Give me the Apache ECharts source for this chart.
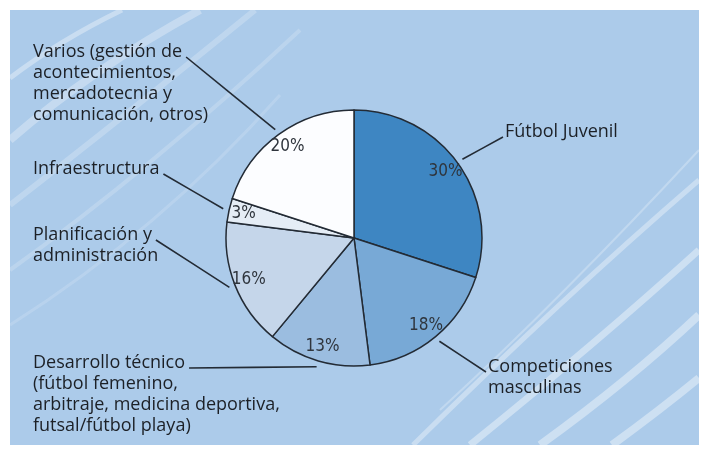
<!DOCTYPE html>
<html><head><meta charset="utf-8">
<script src="https://cdn.jsdelivr.net/npm/echarts@6/dist/echarts.min.js"></script>
<style>html,body{margin:0;padding:0;background:#fff}#c{width:703px;height:455px}</style>
</head><body><div id="c"></div>
<script>
// ---- data ----
const categories = [
  'Fútbol Juvenil',
  'Competiciones\nmasculinas',
  'Desarrollo técnico\n(fútbol femenino,\narbitraje, medicina deportiva,\nfutsal/fútbol playa)',
  'Planificación y\nadministración',
  'Infraestructura',
  'Varios (gestión de\nacontecimientos,\nmercadotecnia y\ncomunicación, otros)'
];
const shares = [30, 18, 13, 16, 3, 20];
const sliceColors = ['#3e86c2', '#78a9d6', '#9bbde0', '#c5d6ea', '#e5edf6', '#fcfdff'];

// ---- layout (not data) ----
const CX = 354, CY = 238, R = 128;
const LABEL_FONT = '"Open Sans", "Noto Sans", sans-serif';
const LABEL_SIZE = 18, LABEL_LH = 21;
// left edge of text block, centre of first line
const labelSpots = [
  {x: 505, y: 132, side: 'right'},
  {x: 488, y: 367, side: 'right'},
  {x: 33, y: 363, side: 'left'},
  {x: 33, y: 235, side: 'left'},
  {x: 33, y: 169, side: 'left'},
  {x: 33, y: 52, side: 'left'}
];
const streaks = [
  [10, 78, 60, 40, 122, 10, 5, 0.35],
  [10, 140, 90, 70, 200, 10, 8, 0.3],
  [10, 205, 120, 120, 255, 10, 6, 0.22],
  [10, 270, 150, 170, 300, 30, 4, 0.18],
  [10, 325, 160, 230, 280, 95, 3, 0.15],
  [413, 445, 560, 300, 699, 180, 5, 0.35],
  [470, 445, 600, 340, 699, 250, 7, 0.4],
  [540, 445, 630, 380, 699, 315, 8, 0.4],
  [612, 445, 660, 410, 699, 378, 8, 0.4],
  [440, 410, 560, 300, 699, 150, 2, 0.25]
];

const meas = document.createElement('canvas').getContext('2d');
meas.font = LABEL_SIZE + 'px ' + LABEL_FONT;

const data = categories.map((n, i) => ({name: n, value: shares[i], itemStyle: {color: sliceColors[i]}}));

const chart = echarts.init(document.getElementById('c'), null, {renderer: 'canvas'});
chart.setOption({
  animation: false,
  backgroundColor: '#ffffff',
  graphic: [
    {type: 'rect', z: -10, shape: {x: 10, y: 10, width: 689, height: 435}, style: {fill: '#accbea'}}
  ].concat(streaks.map(s => ({
    type: 'bezierCurve', z: -9, silent: true,
    shape: {x1: s[0], y1: s[1], cpx1: s[2], cpy1: s[3], x2: s[4], y2: s[5]},
    style: {stroke: 'rgba(255,255,255,' + s[7] + ')', lineWidth: s[6], fill: null}
  }))),
  series: [
    {
      type: 'pie', silent: true, center: [CX, CY], radius: R,
      startAngle: 90, clockwise: true, avoidLabelOverlap: false,
      itemStyle: {borderColor: '#232b35', borderWidth: 1.5},
      label: {
        show: true, position: 'outside', formatter: '{b}',
        fontFamily: LABEL_FONT, fontSize: LABEL_SIZE, lineHeight: LABEL_LH,
        color: '#1c2026', width: 330, overflow: 'none'
      },
      labelLine: {show: true, length: 8, length2: 8, lineStyle: {color: '#232b35', width: 1.6}},
      labelLayout: function (p) {
        const spot = labelSpots[p.dataIndex];
        const pts = p.labelLinePoints;
        let dx = pts[0][0] - CX, dy = pts[0][1] - CY;
        const d = Math.sqrt(dx * dx + dy * dy) || 1;
        const start = [CX + dx / d * (R + 6), CY + dy / d * (R + 6)];
        let end;
        if (spot.side === 'left') {
          const first = categories[p.dataIndex].split('\n')[0];
          end = [spot.x + meas.measureText(first).width + 4, spot.y + 5];
        } else {
          end = [spot.x - 2, spot.y + 5];
        }
        return {
          x: spot.x, y: spot.y - LABEL_LH / 2,
          align: 'left', verticalAlign: 'top',
          labelLinePoints: [start, [(start[0] + end[0]) / 2, (start[1] + end[1]) / 2], end]
        };
      },
      data: data
    },
    {
      type: 'pie', silent: true, center: [CX, CY], radius: [R * 0.72, R],
      startAngle: 90, clockwise: true, avoidLabelOverlap: false,
      itemStyle: {color: 'rgba(0,0,0,0)', borderWidth: 0},
      label: {
        show: true, position: 'inside', formatter: '{c}%',
        fontFamily: '"Liberation Sans Narrow", "DejaVu Sans Condensed", Roboto, sans-serif',
        fontSize: 17, color: '#2f353d'
      },
      labelLine: {show: false},
      data: shares.map((v, i) => ({name: categories[i], value: v}))
    }
  ]
});
</script></body></html>
